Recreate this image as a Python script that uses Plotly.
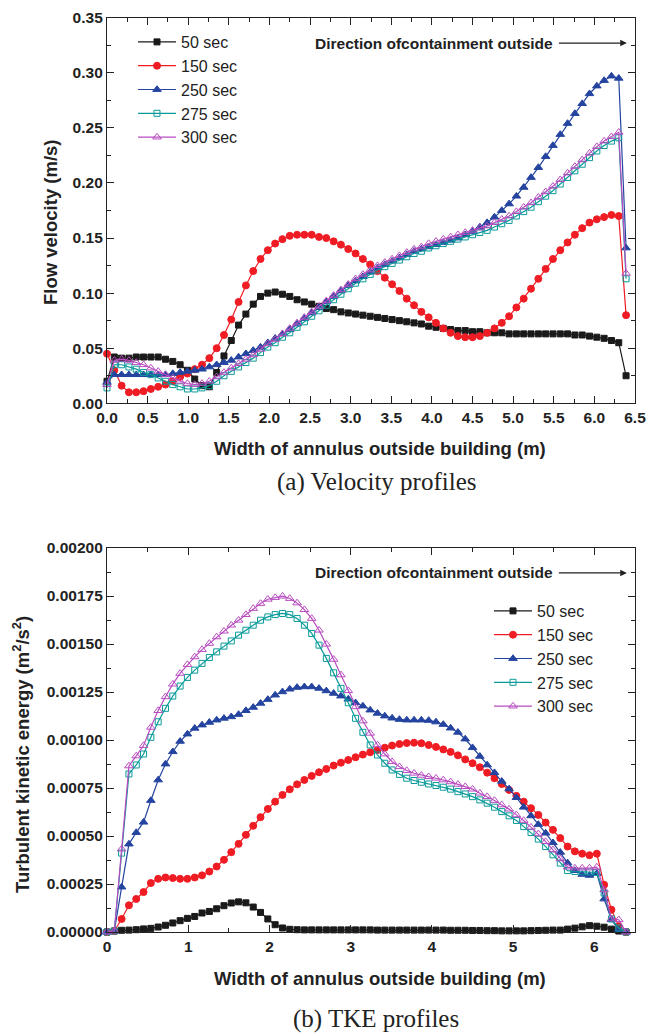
import plotly.graph_objects as go

# Radial positions across the annulus (m)
width_m = [0.00, 0.09, 0.18, 0.27, 0.36, 0.45, 0.54, 0.63, 0.72, 0.81,
           0.90, 0.99, 1.08, 1.17, 1.26, 1.35, 1.44, 1.53, 1.62, 1.71,
           1.80, 1.89, 1.98, 2.07, 2.16, 2.25, 2.34, 2.43, 2.52, 2.61,
           2.70, 2.79, 2.88, 2.97, 3.06, 3.15, 3.24, 3.33, 3.42, 3.51,
           3.60, 3.69, 3.78, 3.87, 3.96, 4.05, 4.14, 4.23, 4.32, 4.41,
           4.50, 4.59, 4.68, 4.77, 4.86, 4.95, 5.04, 5.13, 5.22, 5.31,
           5.40, 5.49, 5.58, 5.67, 5.76, 5.85, 5.94, 6.03, 6.12, 6.21,
           6.30, 6.39]

series_names = ["50 sec", "150 sec", "250 sec", "275 sec", "300 sec"]

# Flow velocity (m/s)
vel_50 = [0.020, 0.042, 0.041, 0.041, 0.042, 0.042, 0.042, 0.042, 0.040, 0.038,
          0.035, 0.030, 0.022, 0.016, 0.015, 0.028, 0.043, 0.057, 0.071, 0.081,
          0.090, 0.097, 0.100, 0.101, 0.099, 0.097, 0.094, 0.092, 0.090, 0.088,
          0.086, 0.085, 0.083, 0.082, 0.081, 0.080, 0.079, 0.078, 0.077, 0.076,
          0.075, 0.074, 0.073, 0.072, 0.070, 0.069, 0.068, 0.067, 0.066, 0.066,
          0.065, 0.065, 0.064, 0.064, 0.064, 0.063, 0.063, 0.063, 0.063, 0.063,
          0.063, 0.063, 0.063, 0.063, 0.062, 0.062, 0.061, 0.060, 0.059, 0.057,
          0.055, 0.025]
vel_150 = [0.045, 0.030, 0.016, 0.010, 0.010, 0.011, 0.013, 0.015, 0.017, 0.020,
           0.024, 0.027, 0.031, 0.035, 0.041, 0.050, 0.062, 0.076, 0.092, 0.107,
           0.120, 0.131, 0.139, 0.145, 0.149, 0.152, 0.153, 0.153, 0.153, 0.151,
           0.150, 0.147, 0.144, 0.140, 0.136, 0.131, 0.126, 0.120, 0.114, 0.108,
           0.102, 0.095, 0.089, 0.083, 0.078, 0.073, 0.068, 0.064, 0.061, 0.060,
           0.060, 0.061, 0.064, 0.068, 0.073, 0.079, 0.087, 0.095, 0.104, 0.113,
           0.122, 0.131, 0.139, 0.146, 0.153, 0.159, 0.164, 0.167, 0.169, 0.171,
           0.170, 0.080]
vel_250 = [0.019, 0.026, 0.026, 0.026, 0.026, 0.026, 0.026, 0.026, 0.026, 0.027,
           0.028, 0.029, 0.030, 0.031, 0.033, 0.035, 0.037, 0.039, 0.042, 0.045,
           0.048, 0.051, 0.055, 0.059, 0.063, 0.067, 0.072, 0.077, 0.082, 0.087,
           0.092, 0.097, 0.102, 0.107, 0.111, 0.115, 0.119, 0.123, 0.126, 0.129,
           0.132, 0.135, 0.138, 0.140, 0.142, 0.144, 0.146, 0.148, 0.150, 0.153,
           0.156, 0.160, 0.164, 0.169, 0.175, 0.181, 0.188, 0.196, 0.205, 0.214,
           0.224, 0.234, 0.244, 0.254, 0.263, 0.272, 0.281, 0.288, 0.293, 0.297,
           0.295, 0.141]
vel_275 = [0.014, 0.035, 0.035, 0.033, 0.031, 0.028, 0.026, 0.023, 0.020, 0.017,
           0.015, 0.013, 0.013, 0.014, 0.016, 0.020, 0.025, 0.029, 0.033, 0.037,
           0.041, 0.046, 0.051, 0.055, 0.060, 0.064, 0.069, 0.074, 0.079, 0.084,
           0.089, 0.094, 0.099, 0.104, 0.109, 0.113, 0.117, 0.121, 0.124, 0.127,
           0.130, 0.133, 0.136, 0.138, 0.141, 0.143, 0.145, 0.147, 0.149, 0.151,
           0.153, 0.155, 0.157, 0.160, 0.163, 0.166, 0.170, 0.174, 0.178, 0.183,
           0.188, 0.193, 0.199, 0.205, 0.211, 0.217, 0.223, 0.229, 0.234, 0.238,
           0.241, 0.113]
vel_300 = [0.017, 0.039, 0.040, 0.039, 0.037, 0.035, 0.032, 0.029, 0.026, 0.023,
           0.020, 0.018, 0.017, 0.018, 0.020, 0.024, 0.028, 0.032, 0.036, 0.040,
           0.044, 0.049, 0.054, 0.058, 0.063, 0.068, 0.073, 0.078, 0.083, 0.088,
           0.093, 0.098, 0.103, 0.108, 0.113, 0.117, 0.121, 0.125, 0.128, 0.131,
           0.134, 0.137, 0.140, 0.142, 0.145, 0.147, 0.149, 0.151, 0.153, 0.155,
           0.157, 0.159, 0.161, 0.164, 0.167, 0.170, 0.174, 0.178, 0.182, 0.187,
           0.192, 0.197, 0.203, 0.209, 0.215, 0.221, 0.227, 0.233, 0.238, 0.242,
           0.246, 0.118]

# Turbulent kinetic energy (m^2/s^2)
tke_50 = [0.0, 0.000005, 0.000009, 0.000010, 0.000012, 0.000016, 0.000019, 0.000026, 0.000035, 0.000047,
          0.000059, 0.000071, 0.000081, 0.000099, 0.000107, 0.000121, 0.000137, 0.000151, 0.000157, 0.000152,
          0.000130, 0.000102, 0.000068, 0.000038, 0.000021, 0.000014, 0.000012, 0.000011, 0.000011, 0.000011,
          0.000011, 0.000011, 0.000011, 0.000011, 0.000011, 0.000011, 0.000011, 0.000010, 0.000010, 0.000010,
          0.000010, 0.000010, 0.000010, 0.000010, 0.000010, 0.000010, 0.000010, 0.000009, 0.000009, 0.000009,
          0.000008, 0.000008, 0.000007, 0.000007, 0.000006, 0.000006, 0.000006, 0.000006, 0.000007, 0.000008,
          0.000009, 0.000010, 0.000010, 0.000015, 0.000020, 0.000027, 0.000033, 0.000030, 0.000025, 0.000015,
          0.000005, 0.0]
tke_150 = [0.0, 0.000005, 0.000068, 0.000139, 0.000172, 0.000208, 0.000255, 0.000277, 0.000284, 0.000281,
           0.000277, 0.000277, 0.000284, 0.000295, 0.000315, 0.000341, 0.000376, 0.000416, 0.000459, 0.000506,
           0.000553, 0.000598, 0.000641, 0.000679, 0.000714, 0.000743, 0.000769, 0.000792, 0.000813, 0.000832,
           0.000849, 0.000867, 0.000882, 0.000896, 0.000910, 0.000924, 0.000936, 0.000948, 0.000960, 0.000971,
           0.000979, 0.000984, 0.000986, 0.000983, 0.000974, 0.000964, 0.000951, 0.000938, 0.000920, 0.000899,
           0.000879, 0.000858, 0.000830, 0.000801, 0.000771, 0.000740, 0.000709, 0.000679, 0.000645, 0.000610,
           0.000570, 0.000532, 0.000489, 0.000445, 0.000420, 0.000408, 0.000400, 0.000408, 0.000246, 0.000116,
           0.000030, 0.0]
tke_250 = [0.0, 0.000005, 0.000234, 0.000458, 0.000518, 0.000572, 0.000685, 0.000792, 0.000875, 0.000939,
           0.000993, 0.001031, 0.001061, 0.001078, 0.001092, 0.001104, 0.001113, 0.001121, 0.001133, 0.001153,
           0.001170, 0.001191, 0.001211, 0.001234, 0.001251, 0.001265, 0.001274, 0.001277, 0.001277, 0.001269,
           0.001256, 0.001243, 0.001229, 0.001213, 0.001194, 0.001177, 0.001156, 0.001139, 0.001125, 0.001114,
           0.001107, 0.001104, 0.001104, 0.001104, 0.001102, 0.001094, 0.001081, 0.001062, 0.001040, 0.001005,
           0.000960, 0.000915, 0.000870, 0.000830, 0.000785, 0.000745, 0.000700, 0.000650, 0.000605, 0.000560,
           0.000515, 0.000465, 0.000415, 0.000360, 0.000320, 0.000300, 0.000295, 0.000305, 0.000172, 0.000064,
           0.000012, 0.0]
tke_275 = [0.0, 0.000005, 0.000411, 0.000823, 0.000870, 0.000927, 0.001014, 0.001095, 0.001165, 0.001229,
           0.001281, 0.001326, 0.001364, 0.001399, 0.001430, 0.001459, 0.001489, 0.001516, 0.001546, 0.001572,
           0.001598, 0.001624, 0.001641, 0.001653, 0.001659, 0.001653, 0.001633, 0.001598, 0.001555, 0.001494,
           0.001425, 0.001350, 0.001269, 0.001194, 0.001113, 0.001040, 0.000974, 0.000922, 0.000879, 0.000844,
           0.000821, 0.000801, 0.000789, 0.000780, 0.000771, 0.000763, 0.000754, 0.000744, 0.000731, 0.000719,
           0.000705, 0.000688, 0.000671, 0.000650, 0.000627, 0.000605, 0.000581, 0.000549, 0.000518, 0.000484,
           0.000445, 0.000402, 0.000359, 0.000320, 0.000315, 0.000313, 0.000313, 0.000310, 0.000203, 0.000068,
           0.000021, 0.0]
tke_300 = [0.0, 0.000005, 0.000432, 0.000865, 0.000917, 0.000971, 0.001066, 0.001153, 0.001225, 0.001291,
           0.001347, 0.001393, 0.001433, 0.001471, 0.001503, 0.001537, 0.001567, 0.001598, 0.001624, 0.001653,
           0.001685, 0.001711, 0.001733, 0.001742, 0.001749, 0.001737, 0.001714, 0.001679, 0.001633, 0.001572,
           0.001499, 0.001420, 0.001339, 0.001257, 0.001173, 0.001099, 0.001035, 0.000974, 0.000927, 0.000887,
           0.000861, 0.000841, 0.000827, 0.000816, 0.000809, 0.000801, 0.000792, 0.000782, 0.000769, 0.000757,
           0.000744, 0.000723, 0.000705, 0.000685, 0.000662, 0.000640, 0.000610, 0.000581, 0.000546, 0.000511,
           0.000471, 0.000428, 0.000381, 0.000338, 0.000333, 0.000333, 0.000333, 0.000338, 0.000220, 0.000068,
           0.000064, 0.0]

velocity = [vel_50, vel_150, vel_250, vel_275, vel_300]
tke = [tke_50, tke_150, tke_250, tke_275, tke_300]

colors = ["#1a1a1a", "#f01c24", "#2444a0", "#0a9a9a", "#b84cc0"]
symbols = ["square", "circle", "triangle-up", "square-open", "triangle-up-open"]
msizes = [6, 7, 7.5, 6, 7.5]

W, H = 647, 1036
INK = "#222222"
SANS = "Liberation Sans, Arial, sans-serif"
SERIF = "Liberation Serif, Times New Roman, serif"

x_dom = [107 / W, 635 / W]
top_dom = [1 - 403.3 / H, 1 - 17.7 / H]
bot_dom = [1 - 932 / H, 1 - 548 / H]

fig = go.Figure()


def series_style(i, name):
    return dict(
        mode="lines+markers", name=name, cliponaxis=False,
        line=dict(color=colors[i], width=1.2),
        marker=dict(symbol=symbols[i], size=msizes[i], color=colors[i],
                    line=dict(color=colors[i], width=1)),
    )


for i, name in enumerate(series_names):
    fig.add_trace(go.Scatter(x=width_m, y=velocity[i], xaxis="x", yaxis="y",
                             legend="legend", **series_style(i, name)))
for i, name in enumerate(series_names):
    fig.add_trace(go.Scatter(x=width_m, y=tke[i], xaxis="x2", yaxis="y2",
                             legend="legend2", **series_style(i, name)))

tick_font = dict(family=SANS, size=15.5, color=INK, weight="bold")
title_font = dict(family=SANS, size=18.5, color=INK, weight="bold")


def frame(**kw):
    base = dict(
        showline=True, linecolor=INK, linewidth=1.3, mirror="ticks",
        ticks="inside", ticklen=7, tickwidth=1.2, tickcolor=INK,
        showgrid=False, zeroline=False, automargin=False,
        tickfont=tick_font,
    )
    base.update(kw)
    return base


legend_font = dict(family=SANS, size=16, color=INK)

fig.update_layout(
    width=W, height=H,
    margin=dict(l=0, r=0, t=0, b=0),
    paper_bgcolor="white", plot_bgcolor="white",
    template="none",
    xaxis=frame(domain=x_dom, anchor="y", range=[0, 6.5], tick0=0, dtick=0.5,
                tickformat=".1f",
                minor=dict(ticks="inside", dtick=0.25, ticklen=4, tickwidth=1.2, tickcolor=INK)),
    yaxis=frame(domain=top_dom, anchor="x", range=[0, 0.35], tick0=0, dtick=0.05,
                tickformat=".2f",
                minor=dict(ticks="inside", dtick=0.025, ticklen=4, tickwidth=1.2, tickcolor=INK)),
    xaxis2=frame(domain=x_dom, anchor="y2", range=[0, 6.5], tick0=0, dtick=1,
                 tickformat="d",
                 minor=dict(ticks="inside", dtick=0.5, ticklen=4, tickwidth=1.2, tickcolor=INK)),
    yaxis2=frame(domain=bot_dom, anchor="x2", range=[0, 0.002], tick0=0, dtick=0.00025,
                 tickformat=".5f",
                 minor=dict(ticks="inside", dtick=0.000125, ticklen=4, tickwidth=1.2, tickcolor=INK)),
    legend=dict(x=133 / W, y=1 - 25 / H, xanchor="left", yanchor="top",
                bgcolor="rgba(0,0,0,0)", borderwidth=0, itemwidth=38,
                font=legend_font, tracegroupgap=0),
    legend2=dict(x=489 / W, y=1 - 594 / H, xanchor="left", yanchor="top",
                 bgcolor="rgba(0,0,0,0)", borderwidth=0, itemwidth=38,
                 font=legend_font, tracegroupgap=0),
    showlegend=True,
)

# Axis titles, placed in page pixels
x_title = "Width of annulus outside building (m)"
titles = [
    (x_title, 380, 448, 0),
    (x_title, 380, 978, 0),
    ("Flow velocity (m/s)", 50, 222, -90),
    ("Turbulent kinetic energy (m<sup>2</sup>/s<sup>2</sup>)", 21, 755, -90),
]
for text, px, py, ang in titles:
    fig.add_annotation(xref="paper", yref="paper", x=px / W, y=1 - py / H,
                       xanchor="center", yanchor="middle", showarrow=False,
                       textangle=ang, text=text, font=title_font)

# Flow direction note: the label sits at the arrow tail, the arrow runs to the right
notes = [("x", "y", 0.327), ("x2", "y2", 0.00187)]
for xr, yr, yv in notes:
    fig.add_annotation(xref=xr, yref=yr, x=6.40, y=yv, axref=xr, ayref=yr, ax=4.03, ay=yv,
                       text="<b>Direction ofcontainment outside</b>", showarrow=True,
                       arrowhead=2, arrowsize=1.1, arrowwidth=1.2, arrowcolor=INK,
                       borderpad=5, font=dict(family=SANS, size=15.5, color=INK))

# Panel captions
fig.add_annotation(xref="paper", yref="paper", x=376 / W, y=1 - 482 / H,
                   xanchor="center", yanchor="middle", showarrow=False,
                   text="(a) Velocity profiles",
                   font=dict(family=SERIF, size=25, color=INK))
fig.add_annotation(xref="paper", yref="paper", x=376 / W, y=1 - 1019 / H,
                   xanchor="center", yanchor="middle", showarrow=False,
                   text="(b) TKE profiles",
                   font=dict(family=SERIF, size=25, color=INK))

fig.write_html("out.html")
